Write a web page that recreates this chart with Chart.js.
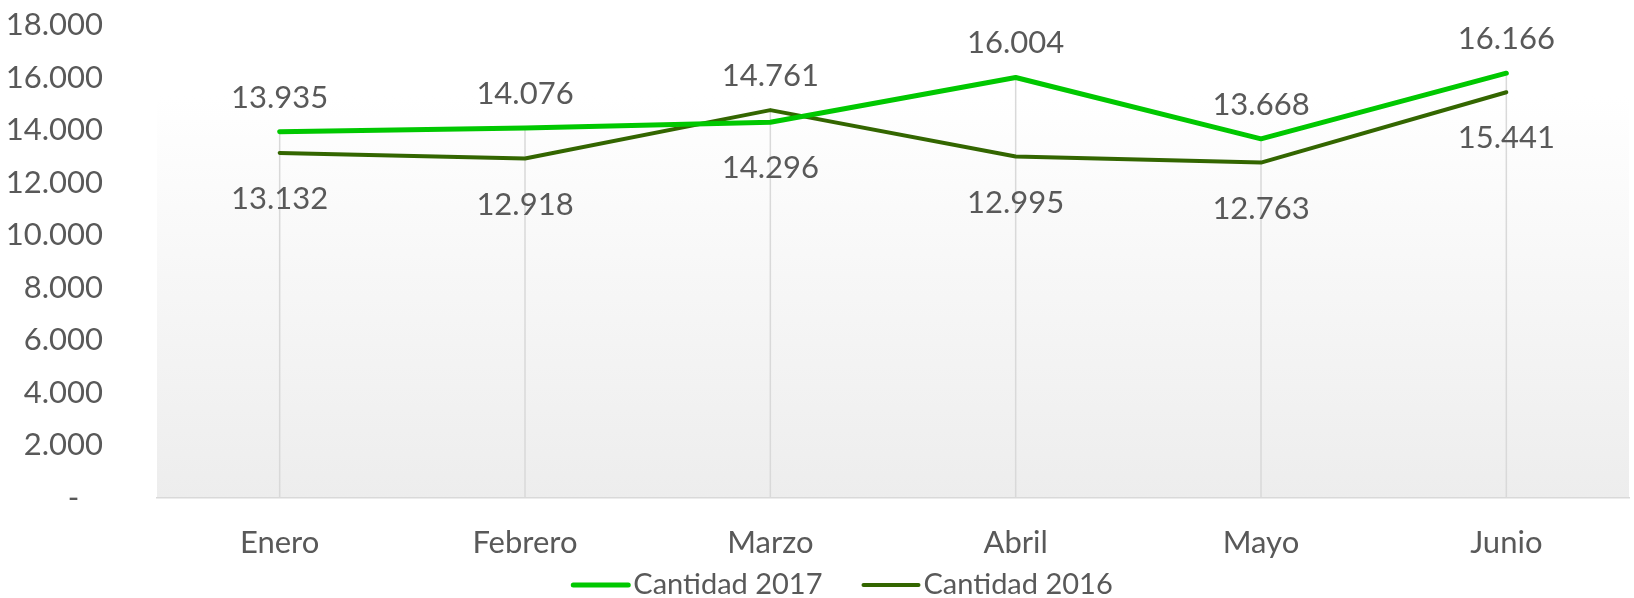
<!DOCTYPE html>
<html>
<head>
<meta charset="utf-8">
<script src="https://cdn.jsdelivr.net/npm/chart.js@4/dist/chart.umd.min.js"></script>
<style>
  html, body { margin: 0; padding: 0; background: #ffffff; }
  #wrap { width: 1634px; height: 598px; position: relative; }
</style>
</head>
<body>
<div id="wrap"><canvas id="c" width="1634" height="598"></canvas></div>
<script>
const categories = ['Enero', 'Febrero', 'Marzo', 'Abril', 'Mayo', 'Junio'];
const cantidad2017 = [13935, 14076, 14296, 16004, 13668, 16166];
const cantidad2016 = [13132, 12918, 14761, 12995, 12763, 15441];
const seriesNames = ['Cantidad 2017', 'Cantidad 2016'];
const yMin = 0, yMax = 18000, yStep = 2000;

const FONT = 'Lato, "Open Sans", sans-serif';
const FONT_SIZE = 31;
const LEGEND_FONT_SIZE = 29;
const TEXT = '#595959';

function fmt(n) {
  if (n === 0) return '-';
  return String(Math.round(n)).replace(/\B(?=(\d{3})+(?!\d))/g, '.');
}

const bgPlugin = {
  id: 'bgGrad',
  beforeDraw(chart) {
    const { ctx, chartArea: a } = chart;
    const g = ctx.createLinearGradient(0, a.top, 0, a.bottom);
    g.addColorStop(0, '#ffffff');
    g.addColorStop(0.15, '#ffffff');
    g.addColorStop(1, '#ededed');
    ctx.save();
    ctx.fillStyle = g;
    ctx.fillRect(a.left, a.top, a.right - a.left, a.bottom - a.top);
    ctx.restore();
  }
};

const dropPlugin = {
  id: 'dropLines',
  beforeDatasetsDraw(chart) {
    const { ctx, chartArea: a } = chart;
    const m0 = chart.getDatasetMeta(0).data, m1 = chart.getDatasetMeta(1).data;
    ctx.save();
    ctx.strokeStyle = '#d9d9d9';
    ctx.lineWidth = 1.5;
    for (let i = 0; i < m0.length; i++) {
      const x = m0[i].x;
      const top = Math.min(m0[i].y, m1[i].y);
      ctx.beginPath();
      ctx.moveTo(x, top);
      ctx.lineTo(x, a.bottom);
      ctx.stroke();
    }
    ctx.restore();
  }
};

const labelPlugin = {
  id: 'valueLabels',
  afterDatasetsDraw(chart) {
    const { ctx } = chart;
    const ds = chart.data.datasets;
    const m0 = chart.getDatasetMeta(0).data, m1 = chart.getDatasetMeta(1).data;
    ctx.save();
    ctx.font = FONT_SIZE + 'px ' + FONT;
    ctx.fillStyle = TEXT;
    ctx.textAlign = 'center';
    ctx.textBaseline = 'middle';
    for (let i = 0; i < m0.length; i++) {
      const v0 = ds[0].data[i], v1 = ds[1].data[i];
      const hiEl = v0 >= v1 ? m0[i] : m1[i];
      const loEl = v0 >= v1 ? m1[i] : m0[i];
      const hiV = Math.max(v0, v1), loV = Math.min(v0, v1);
      ctx.fillText(fmt(hiV), hiEl.x, hiEl.y - 34);
      ctx.fillText(fmt(loV), loEl.x, loEl.y + 46);
    }
    ctx.restore();
  }
};

const legendPlugin = {
  id: 'customLegend',
  afterDraw(chart) {
    const { ctx } = chart;
    const ds = chart.data.datasets;
    ctx.save();
    ctx.font = LEGEND_FONT_SIZE + 'px ' + FONT;
    ctx.textBaseline = 'middle';
    const sample = 55, gap = 5, itemGap = 41;
    const widths = ds.map(d => sample + gap + ctx.measureText(d.label).width);
    const total = widths.reduce((s, w) => s + w, 0) + itemGap * (ds.length - 1);
    let x = chart.width / 2 + 26 - total / 2;
    const y = 585;
    ds.forEach((d, i) => {
      ctx.strokeStyle = d.borderColor;
      ctx.lineWidth = d.borderWidth;
      ctx.lineCap = 'round';
      ctx.beginPath();
      ctx.moveTo(x, y);
      ctx.lineTo(x + sample, y);
      ctx.stroke();
      ctx.fillStyle = TEXT;
      ctx.textAlign = 'left';
      ctx.fillText(d.label, x + sample + gap, y);
      x += widths[i] + itemGap;
    });
    ctx.restore();
  }
};

new Chart(document.getElementById('c'), {
  type: 'line',
  data: {
    labels: categories,
    datasets: [
      { label: seriesNames[0], data: cantidad2017, borderColor: '#00c800', backgroundColor: '#00c800',
        borderWidth: 5, pointRadius: 0, tension: 0, borderCapStyle: 'round', borderJoinStyle: 'round' },
      { label: seriesNames[1], data: cantidad2016, borderColor: '#336600', backgroundColor: '#336600',
        borderWidth: 4, pointRadius: 0, tension: 0, borderCapStyle: 'round', borderJoinStyle: 'round' }
    ]
  },
  options: {
    responsive: false,
    animation: false,
    devicePixelRatio: 1,
    layout: { padding: { top: 25, right: 5, left: 0, bottom: 0 } },
    plugins: { legend: { display: false }, tooltip: { enabled: false } },
    scales: {
      x: {
        offset: true,
        grid: { display: false, drawTicks: false },
        border: { display: true, color: '#d9d9d9', width: 1.5 },
        ticks: { color: TEXT, font: { family: FONT, size: FONT_SIZE }, padding: 26, maxRotation: 0 },
        afterFit(scale) { scale.height = 100; }
      },
      y: {
        min: yMin, max: yMax,
        grid: { display: false, drawTicks: false },
        border: { display: false },
        ticks: { stepSize: yStep, color: TEXT, font: { family: FONT, size: FONT_SIZE }, padding: 54,
                 callback: v => (v === 0 ? '-   ' : fmt(v)) },
        afterFit(scale) { scale.width = 157; scale.paddingTop = 18; scale.paddingBottom = 18; }
      }
    }
  },
  plugins: [bgPlugin, dropPlugin, labelPlugin, legendPlugin]
});
</script>
</body>
</html>
